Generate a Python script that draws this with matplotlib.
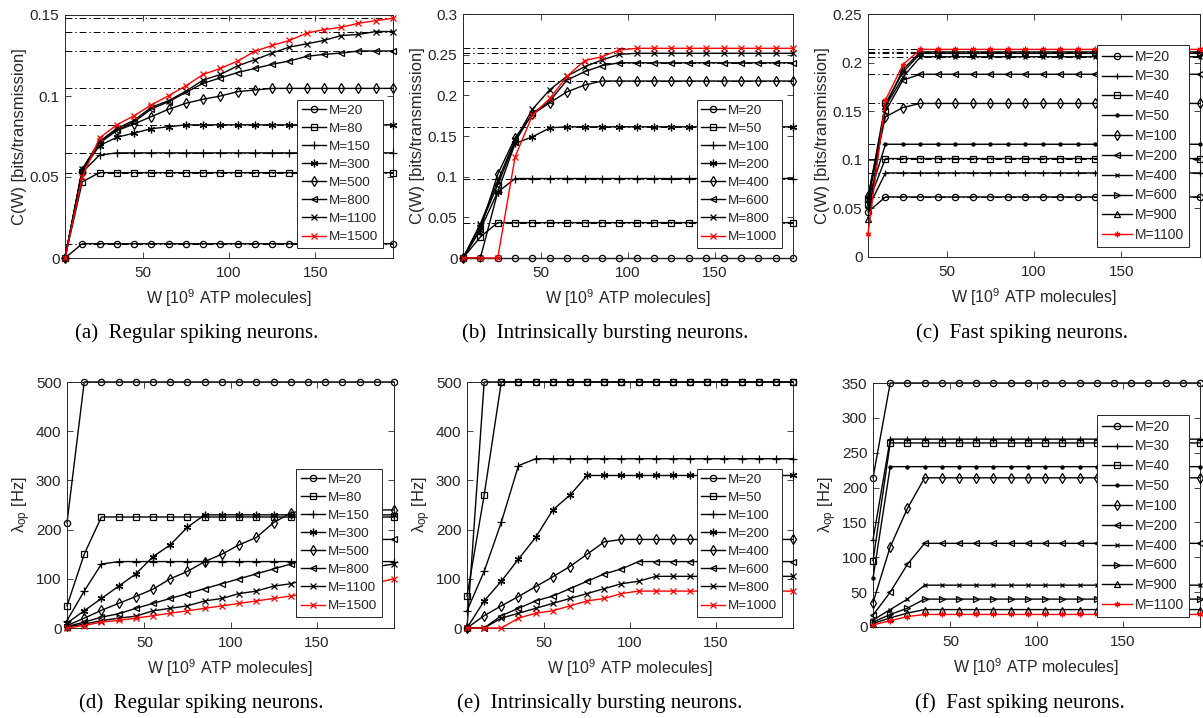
import matplotlib
matplotlib.use("Agg")
import matplotlib.pyplot as plt

# ---------------- data ----------------
W = [5, 15, 25, 35, 45, 55, 65, 75, 85, 95, 105, 115, 125, 135, 145, 155, 165, 175, 185, 195]

# (a) Regular spiking neurons: capacity
a_labels = ["M=20", "M=80", "M=150", "M=300", "M=500", "M=800", "M=1100", "M=1500"]
a_M20 = [0, 0.0088, 0.0088, 0.0088, 0.0088, 0.0088, 0.0088, 0.0088, 0.0088, 0.0088, 0.0088, 0.0088, 0.0088, 0.0088, 0.0088, 0.0088, 0.0088, 0.0088, 0.0088, 0.0088]
a_M80 = [0, 0.047, 0.0527, 0.0527, 0.0527, 0.0527, 0.0527, 0.0527, 0.0527, 0.0527, 0.0527, 0.0527, 0.0527, 0.0527, 0.0527, 0.0527, 0.0527, 0.0527, 0.0527, 0.0527]
a_M150 = [0, 0.053, 0.0635, 0.0649, 0.0649, 0.0649, 0.0649, 0.0649, 0.0649, 0.0649, 0.0649, 0.0649, 0.0649, 0.0649, 0.0649, 0.0649, 0.0649, 0.0649, 0.0649, 0.0649]
a_M300 = [0, 0.054, 0.0694, 0.0745, 0.0771, 0.0798, 0.081, 0.0822, 0.0822, 0.0822, 0.0822, 0.0822, 0.0822, 0.0822, 0.0822, 0.0822, 0.0822, 0.0822, 0.0822, 0.0822]
a_M500 = [0, 0.054, 0.071, 0.0786, 0.0827, 0.0873, 0.0918, 0.0955, 0.098, 0.1, 0.1027, 0.1037, 0.1047, 0.1047, 0.1047, 0.1047, 0.1047, 0.1047, 0.1047, 0.1047]
a_M800 = [0, 0.054, 0.072, 0.079, 0.084, 0.092, 0.0965, 0.1022, 0.1078, 0.1112, 0.1145, 0.117, 0.1196, 0.1216, 0.1245, 0.1257, 0.1265, 0.1278, 0.1278, 0.1278]
a_M1100 = [0, 0.055, 0.072, 0.080, 0.085, 0.093, 0.0971, 0.103, 0.1098, 0.1133, 0.1186, 0.1224, 0.1265, 0.1302, 0.1322, 0.1343, 0.1373, 0.138, 0.1398, 0.1398]
a_M1500 = [0, 0.05, 0.0741, 0.0822, 0.0878, 0.0945, 0.1002, 0.1063, 0.1133, 0.117, 0.1216, 0.1276, 0.1312, 0.1343, 0.1388, 0.141, 0.1424, 0.1449, 0.1465, 0.148]
a_limits = [0.0088, 0.0527, 0.0649, 0.0822, 0.1047, 0.1278, 0.1398, 0.148]

# (b) Intrinsically bursting neurons: capacity
b_labels = ["M=20", "M=50", "M=100", "M=200", "M=400", "M=600", "M=800", "M=1000"]
b_M20 = [0, 0, 0, 0, 0, 0, 0, 0, 0, 0, 0, 0, 0, 0, 0, 0, 0, 0, 0, 0]
b_M50 = [0, 0.0259, 0.0435, 0.0435, 0.0435, 0.0435, 0.0435, 0.0435, 0.0435, 0.0435, 0.0435, 0.0435, 0.0435, 0.0435, 0.0435, 0.0435, 0.0435, 0.0435, 0.0435, 0.0435]
b_M100 = [0, 0, 0.081, 0.0977, 0.0977, 0.0977, 0.0977, 0.0977, 0.0977, 0.0977, 0.0977, 0.0977, 0.0977, 0.0977, 0.0977, 0.0977, 0.0977, 0.0977, 0.0977, 0.0977]
b_M200 = [0, 0.035, 0.0813, 0.1408, 0.149, 0.160, 0.1613, 0.1613, 0.1613, 0.1613, 0.1613, 0.1613, 0.1613, 0.1613, 0.1613, 0.1613, 0.1613, 0.1613, 0.1613, 0.1613]
b_M400 = [0, 0.035, 0.103, 0.1478, 0.1765, 0.191, 0.2044, 0.2126, 0.2176, 0.2176, 0.2176, 0.2176, 0.2176, 0.2176, 0.2176, 0.2176, 0.2176, 0.2176, 0.2176, 0.2176]
b_M600 = [0, 0.04, 0.09, 0.143, 0.178, 0.193, 0.219, 0.229, 0.2365, 0.240, 0.240, 0.240, 0.240, 0.240, 0.240, 0.240, 0.240, 0.240, 0.240, 0.240]
b_M800 = [0, 0.042, 0.095, 0.145, 0.183, 0.207, 0.2237, 0.2352, 0.2434, 0.2504, 0.2517, 0.2517, 0.2517, 0.2517, 0.2517, 0.2517, 0.2517, 0.2517, 0.2517, 0.2517]
b_M1000 = [0, 0, 0, 0.1244, 0.1757, 0.1962, 0.2237, 0.2426, 0.2476, 0.2557, 0.2578, 0.2578, 0.2578, 0.2578, 0.2578, 0.2578, 0.2578, 0.2578, 0.2578, 0.2578]
b_limits = [0.0435, 0.0977, 0.1613, 0.2176, 0.240, 0.2517, 0.2578]

# (c) Fast spiking neurons: capacity
c_labels = ["M=20", "M=30", "M=40", "M=50", "M=100", "M=200", "M=400", "M=600", "M=900", "M=1100"]
c_M20 = [0.0464, 0.0618, 0.0618, 0.0618, 0.0618, 0.0618, 0.0618, 0.0618, 0.0618, 0.0618, 0.0618, 0.0618, 0.0618, 0.0618, 0.0618, 0.0618, 0.0618, 0.0618, 0.0618, 0.0618]
c_M30 = [0.050, 0.0865, 0.0865, 0.0865, 0.0865, 0.0865, 0.0865, 0.0865, 0.0865, 0.0865, 0.0865, 0.0865, 0.0865, 0.0865, 0.0865, 0.0865, 0.0865, 0.0865, 0.0865, 0.0865]
c_M40 = [0.055, 0.1013, 0.1013, 0.1013, 0.1013, 0.1013, 0.1013, 0.1013, 0.1013, 0.1013, 0.1013, 0.1013, 0.1013, 0.1013, 0.1013, 0.1013, 0.1013, 0.1013, 0.1013, 0.1013]
c_M50 = [0.058, 0.116, 0.116, 0.116, 0.116, 0.116, 0.116, 0.116, 0.116, 0.116, 0.116, 0.116, 0.116, 0.116, 0.116, 0.116, 0.116, 0.116, 0.116, 0.116]
c_M100 = [0.063, 0.1442, 0.1538, 0.158, 0.158, 0.158, 0.158, 0.158, 0.158, 0.158, 0.158, 0.158, 0.158, 0.158, 0.158, 0.158, 0.158, 0.158, 0.158, 0.158]
c_M200 = [0.062, 0.150, 0.182, 0.188, 0.188, 0.188, 0.188, 0.188, 0.188, 0.188, 0.188, 0.188, 0.188, 0.188, 0.188, 0.188, 0.188, 0.188, 0.188, 0.188]
c_M400 = [0.055, 0.155, 0.185, 0.206, 0.206, 0.206, 0.206, 0.206, 0.206, 0.206, 0.206, 0.206, 0.206, 0.206, 0.206, 0.206, 0.206, 0.206, 0.206, 0.206]
c_M600 = [0.060, 0.158, 0.190, 0.2095, 0.2095, 0.2095, 0.2095, 0.2095, 0.2095, 0.2095, 0.2095, 0.2095, 0.2095, 0.2095, 0.2095, 0.2095, 0.2095, 0.2095, 0.2095, 0.2095]
c_M900 = [0.0395, 0.155, 0.193, 0.211, 0.211, 0.211, 0.211, 0.211, 0.211, 0.211, 0.211, 0.211, 0.211, 0.211, 0.211, 0.211, 0.211, 0.211, 0.211, 0.211]
c_M1100 = [0.024, 0.1614, 0.198, 0.2136, 0.2136, 0.2136, 0.2136, 0.2136, 0.2136, 0.2136, 0.2136, 0.2136, 0.2136, 0.2136, 0.2136, 0.2136, 0.2136, 0.2136, 0.2136, 0.2136]
c_limits = [0.0618, 0.0865, 0.1013, 0.116, 0.158, 0.188, 0.206, 0.2095, 0.211, 0.2136]

# (d) Regular spiking neurons: optimal rate
d_M20 = [214, 500, 500, 500, 500, 500, 500, 500, 500, 500, 500, 500, 500, 500, 500, 500, 500, 500, 500, 500]
d_M80 = [45, 150, 225.6, 225.6, 225.6, 225.6, 225.6, 225.6, 225.6, 225.6, 225.6, 225.6, 225.6, 225.6, 225.6, 225.6, 225.6, 225.6, 225.6, 225.6]
d_M150 = [15, 75, 130, 135, 135, 135, 135, 135, 135, 135, 135, 135, 135, 135, 135, 135, 135, 135, 135, 135]
d_M300 = [10, 35, 60, 85, 110, 145, 169, 205, 230, 230, 230, 230, 230, 230, 230, 230, 230, 230, 230, 230]
d_M500 = [5, 20, 36, 50, 64, 79, 100, 115, 135, 150, 169, 184, 214, 234, 240, 240, 240, 240, 240, 240]
d_M800 = [3, 12, 22, 29, 40, 50, 60, 70, 80, 90, 100, 110, 120, 130, 140, 150, 160, 170, 180, 180]
d_M1100 = [2, 8, 15, 20, 24, 35, 40, 45, 55, 60, 70, 75, 85, 90, 100, 105, 115, 120, 125, 130]
d_M1500 = [0, 5, 12, 15.6, 20, 25, 30, 35, 40, 45, 50, 55, 60, 65, 70, 75, 80, 85, 92, 100]

# (e) Intrinsically bursting neurons: optimal rate
e_M20 = [0, 500, 500, 500, 500, 500, 500, 500, 500, 500, 500, 500, 500, 500, 500, 500, 500, 500, 500, 500]
e_M50 = [65, 270, 500, 500, 500, 500, 500, 500, 500, 500, 500, 500, 500, 500, 500, 500, 500, 500, 500, 500]
e_M100 = [35, 115, 215, 330, 344, 344, 344, 344, 344, 344, 344, 344, 344, 344, 344, 344, 344, 344, 344, 344]
e_M200 = [0, 55, 95, 140, 184, 240, 270, 310, 310, 310, 310, 310, 310, 310, 310, 310, 310, 310, 310, 310]
e_M400 = [0, 25, 45, 64, 84, 104, 125, 150, 175, 180, 180, 180, 180, 180, 180, 180, 180, 180, 180, 180]
e_M600 = [0, 0, 25, 40, 55, 65, 80, 95, 110, 120, 135, 135, 135, 135, 135, 135, 135, 135, 135, 135]
e_M800 = [0, 0, 20, 30, 40, 50, 60, 70, 80, 90, 95, 105, 105, 105, 105, 105, 105, 105, 105, 105]
e_M1000 = [0, 0, 0, 20, 30, 35, 45, 55, 60, 70, 75, 75, 75, 75, 75, 75, 75, 75, 75, 75]

# (f) Fast spiking neurons: optimal rate
f_M20 = [214, 350, 350, 350, 350, 350, 350, 350, 350, 350, 350, 350, 350, 350, 350, 350, 350, 350, 350, 350]
f_M30 = [125, 269.5, 269.5, 269.5, 269.5, 269.5, 269.5, 269.5, 269.5, 269.5, 269.5, 269.5, 269.5, 269.5, 269.5, 269.5, 269.5, 269.5, 269.5, 269.5]
f_M40 = [95, 264, 264, 264, 264, 264, 264, 264, 264, 264, 264, 264, 264, 264, 264, 264, 264, 264, 264, 264]
f_M50 = [70, 230, 230, 230, 230, 230, 230, 230, 230, 230, 230, 230, 230, 230, 230, 230, 230, 230, 230, 230]
f_M100 = [35, 115, 170, 214, 214, 214, 214, 214, 214, 214, 214, 214, 214, 214, 214, 214, 214, 214, 214, 214]
f_M200 = [17, 50, 90, 120, 120, 120, 120, 120, 120, 120, 120, 120, 120, 120, 120, 120, 120, 120, 120, 120]
f_M400 = [10, 25, 40, 60, 60, 60, 60, 60, 60, 60, 60, 60, 60, 60, 60, 60, 60, 60, 60, 60]
f_M600 = [7, 18, 27, 40, 40, 40, 40, 40, 40, 40, 40, 40, 40, 40, 40, 40, 40, 40, 40, 40]
f_M900 = [5, 13, 20, 25, 25, 25, 25, 25, 25, 25, 25, 25, 25, 25, 25, 25, 25, 25, 25, 25]
f_M1100 = [3, 9, 15, 18, 18, 18, 18, 18, 18, 18, 18, 18, 18, 18, 18, 18, 18, 18, 18, 18]

x_ticks = [50, 100, 150]
a_yticks = [0, 0.05, 0.1, 0.15]
a_yticklabels = ["0", "0.05", "0.1", "0.15"]
b_yticks = [0, 0.05, 0.1, 0.15, 0.2, 0.25, 0.3]
b_yticklabels = ["0", "0.05", "0.1", "0.15", "0.2", "0.25", "0.3"]
c_yticks = [0, 0.05, 0.1, 0.15, 0.2, 0.25]
c_yticklabels = ["0", "0.05", "0.1", "0.15", "0.2", "0.25"]
de_yticks = [0, 100, 200, 300, 400, 500]
f_yticks = [0, 50, 100, 150, 200, 250, 300, 350]

captions = ["(a)  Regular spiking neurons.", "(b)  Intrinsically bursting neurons.",
            "(c)  Fast spiking neurons.", "(d)  Regular spiking neurons.",
            "(e)  Intrinsically bursting neurons.", "(f)  Fast spiking neurons."]

# ---------------- style ----------------
plt.rcParams["font.family"] = ["Liberation Sans", "DejaVu Sans"]
plt.rcParams["mathtext.default"] = "regular"
AX_COL = "#262626"
TXT_COL = "#262626"

ASTER = (6, 2, 0)
mk8 = ["o", "s", "+", ASTER, "d", "<", "x", "x"]
mk10 = ["o", "+", "s", ".", "d", "<", "x", ">", "^", ASTER]
ms8 = [4.5, 4.2, 6, 5.5, 5, 5, 5, 5]
ms10 = [4.5, 4, 4, 4.5, 5, 5, 3.5, 5, 5, 4]

fig = plt.figure(figsize=(12.03, 7.18), dpi=100)
FW, FH = 1203.0, 718.0


def make_ax(l, r, t, b):
    return fig.add_axes([l / FW, 1 - b / FH, (r - l) / FW, (b - t) / FH])


def style_ax(ax, yticks, yticklabels, ylim, ylabel):
    ax.set_xlim(5, 195)
    ax.set_ylim(*ylim)
    ax.set_xticks(x_ticks)
    ax.set_xticklabels([str(v) for v in x_ticks])
    ax.set_yticks(yticks)
    if yticklabels is not None:
        ax.set_yticklabels(yticklabels)
    ax.tick_params(direction="in", top=True, right=True, length=4, width=0.6,
                   colors=AX_COL, labelsize=11, labelcolor=TXT_COL)
    ax.tick_params(axis="x", pad=6)
    ax.tick_params(axis="y", pad=4)
    for s in ax.spines.values():
        s.set_color(AX_COL)
        s.set_linewidth(0.7)
    ax.set_xlabel("W [10$^9$ ATP molecules]", fontsize=11.5, color=TXT_COL, labelpad=5)
    ax.set_ylabel(ylabel, fontsize=12, color=TXT_COL, labelpad=2)


def plot_series(ax, series, labels, markers, sizes, limits=None):
    if limits is not None:
        for v in limits:
            ax.axhline(v, color="black", lw=0.7, ls=(0, (7, 3, 1.5, 3)), zorder=1)
    for i, (ys, lab) in enumerate(zip(series, labels)):
        col = "red" if i == len(series) - 1 else "black"
        m = markers[i]
        filled = m in (".",)
        ax.plot(W, ys, color=col, lw=1.0, marker=m, markersize=sizes[i],
                markerfacecolor=(col if filled else "none"), markeredgecolor=col,
                markeredgewidth=0.9, label=lab, zorder=2 + i, clip_on=False)


def add_legend(ax, right_px, bottom_px, axl, axr, axt, axb, hl, fs):
    bx = (right_px - axl) / (axr - axl)
    by = (axb - bottom_px) / (axb - axt)
    leg = ax.legend(loc="lower right", bbox_to_anchor=(bx, by), borderaxespad=0,
                    fontsize=fs, handlelength=hl, handletextpad=0.2,
                    labelspacing=0.42, borderpad=0.35, fancybox=False,
                    framealpha=1, edgecolor=AX_COL)
    leg.get_frame().set_linewidth(0.7)
    leg.set_zorder(100)
    for t in leg.get_texts():
        t.set_color(TXT_COL)


# (a)
A = (65, 393, 15, 258)
ax = make_ax(*A)
plot_series(ax, [a_M20, a_M80, a_M150, a_M300, a_M500, a_M800, a_M1100, a_M1500],
            a_labels, mk8, ms8, a_limits)
style_ax(ax, a_yticks, a_yticklabels, (0, 0.15), "C(W) [bits/transmission]")
add_legend(ax, 383, 248, *A, 1.8, 9.7)

# (b)
B = (463, 793, 14, 258)
ax = make_ax(*B)
plot_series(ax, [b_M20, b_M50, b_M100, b_M200, b_M400, b_M600, b_M800, b_M1000],
            b_labels, mk8, ms8, b_limits)
style_ax(ax, b_yticks, b_yticklabels, (0, 0.3), "C(W) [bits/transmission]")
add_legend(ax, 782, 248, *B, 1.8, 9.7)

# (c)
C = (868, 1200, 14, 257)
ax = make_ax(*C)
plot_series(ax, [c_M20, c_M30, c_M40, c_M50, c_M100, c_M200, c_M400, c_M600, c_M900, c_M1100],
            c_labels, mk10, ms10, c_limits)
style_ax(ax, c_yticks, c_yticklabels, (0, 0.25), "C(W) [bits/transmission]")
add_legend(ax, 1189, 247, *C, 2.2, 10)

# (d)
D = (67, 394, 382, 628)
ax = make_ax(*D)
plot_series(ax, [d_M20, d_M80, d_M150, d_M300, d_M500, d_M800, d_M1100, d_M1500],
            a_labels, mk8, ms8)
style_ax(ax, de_yticks, None, (0, 500), "$\\lambda_{op}$ [Hz]")
add_legend(ax, 382, 617, *D, 1.8, 9.7)

# (e)
E = (467, 793, 382, 628)
ax = make_ax(*E)
plot_series(ax, [e_M20, e_M50, e_M100, e_M200, e_M400, e_M600, e_M800, e_M1000],
            b_labels, mk8, ms8)
style_ax(ax, de_yticks, None, (0, 500), "$\\lambda_{op}$ [Hz]")
add_legend(ax, 782, 617, *E, 1.8, 9.7)

# (f)
F = (873, 1200, 383, 627)
ax = make_ax(*F)
plot_series(ax, [f_M20, f_M30, f_M40, f_M50, f_M100, f_M200, f_M400, f_M600, f_M900, f_M1100],
            c_labels, mk10, ms10)
style_ax(ax, f_yticks, None, (0, 350), "$\\lambda_{op}$ [Hz]")
add_legend(ax, 1189, 617, *F, 2.2, 10)

# captions
cap_pos = [(197, 333), (605, 333), (1022, 333), (201, 703), (600, 703), (1020, 703)]
for txt, (cx, cy) in zip(captions, cap_pos):
    fig.text(cx / FW, 1 - cy / FH, txt, ha="center", va="center",
             fontsize=15, family=["Liberation Serif", "DejaVu Serif"], color="black")

fig.savefig("out.png", dpi=100, facecolor="white")
